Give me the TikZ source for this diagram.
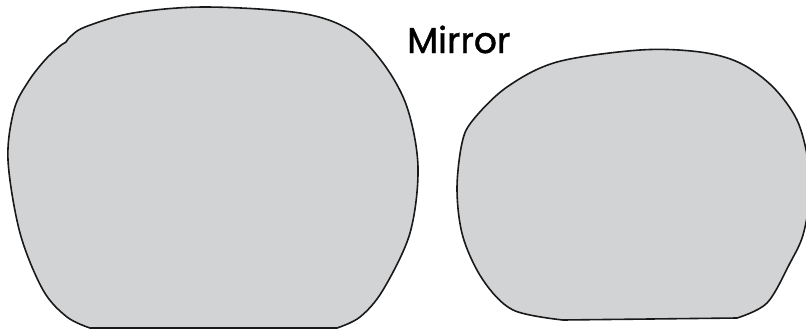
\documentclass[tikz,border=0pt]{standalone}
\usepackage{fontspec}
\newfontfamily\popfont{Poppins}[FakeBold=1.2]
\definecolor{lensgray}{RGB}{209,211,212}
\tikzset{lens/.style={fill=lensgray,draw=black!90,line width=1.6pt,line join=round}}
\begin{document}
\begin{tikzpicture}[x=1pt,y=-1pt]
\useasboundingbox (0,0) rectangle (806,330);
\clip (0,0) rectangle (806,330);
% left lens
\draw[lens] plot[smooth,tension=0.55] coordinates {(90,328) (67,317) (43,290) (20,233) (8,160) (14,110) (28,82) (45,60) (60,46) (66,42) (70,37) (85,27) (133,13) (205,7) (300,13) (350,30) (383,63) (407,107) (418,167) (410,233) (383,290) (360,317) (337,328)} -- cycle;
% right lens
\draw[lens] plot[smooth,tension=0.55] coordinates {(737,318) (767,303) (790,263) (803,235) (810,195) (808,160) (797,120) (773,87) (740,63) (700,52) (640,50) (557,62) (507,87) (473,120) (462,143) (457,190) (463,237) (483,280) (513,310) (563,320)} -- cycle;
\node[font=\popfont\fontsize{36}{42}\selectfont, inner sep=0pt, anchor=base west] (title) at (407,53) {Mirror};
\end{tikzpicture}
\end{document}
